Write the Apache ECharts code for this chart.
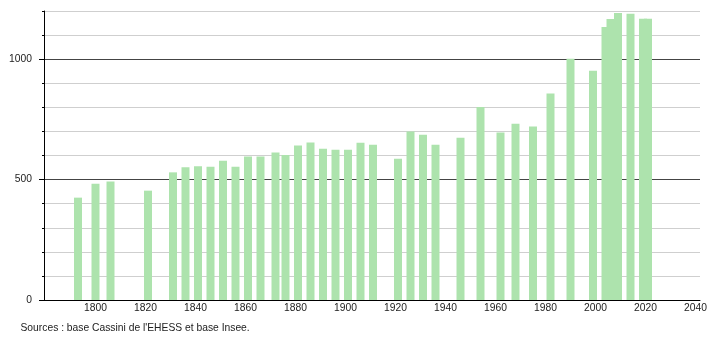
<!DOCTYPE html>
<html><head><meta charset="utf-8">
<script src="https://cdn.jsdelivr.net/npm/echarts@6/dist/echarts.min.js"></script>
<style>html,body{margin:0;padding:0;background:#fff}#c{width:710px;height:340px}</style>
</head><body><div id="c"></div>
<script>
const years = [1793,1800,1806,1821,1831,1836,1841,1846,1851,1856,1861,1866,1872,1876,1881,1886,1891,1896,1901,1906,1911,1921,1926,1931,1936,1946,1954,1962,1968,1975,1982,1990,1999,2004,2006,2009,2014,2019,2021];
const population = [425,483,492,454,530,551,555,553,578,553,596,596,612,602,642,654,628,624,624,653,645,587,700,686,645,674,801,695,732,720,857,1002,952,1134,1167,1192,1189,1168,1168];
const xTickLabels = [1800,1820,1840,1860,1880,1900,1920,1940,1960,1980,2000,2020,2040];
const yTickLabels = [0,500,1000];
const sourceText = "Sources : base Cassini de l'EHESS et base Insee.";

const font = "'Liberation Sans', Arial, sans-serif";
const fs = 10.3;
const chart = echarts.init(document.getElementById('c'), null, {renderer:'canvas'});
chart.setOption({
  animation:false,
  backgroundColor:'#fff',
  grid:{left:44,right:10,top:11,bottom:40,containLabel:false},
  graphic:[{type:'text',left:20.5,top:323.5,style:{text:sourceText,fill:'#222',font:fs+'px '+font}}],
  xAxis:{type:'value',min:1779.4,max:2041.8,
    axisLine:{show:true,onZero:false,lineStyle:{color:'#000',width:1}},
    axisTick:{show:false},
    splitLine:{show:false},
    axisLabel:{customValues:xTickLabels,formatter:v=>String(Math.round(v)),color:'#222',fontSize:fs,fontFamily:font,margin:3}
  },
  yAxis:[{type:'value',min:0,max:1200,interval:100,position:'left',
    axisLine:{show:true,lineStyle:{color:'#000',width:1}},
    axisTick:{show:true,length:2,lineStyle:{color:'#000'}},
    axisLabel:{show:false},
    splitLine:{show:true,lineStyle:{color:['#444','#cfcfcf','#cfcfcf','#cfcfcf','#cfcfcf'],width:1}}
  },{type:'value',min:0,max:1200,position:'left',
    axisLine:{show:false},
    axisTick:{show:true,length:5,customValues:yTickLabels,lineStyle:{color:'#000'}},
    axisLabel:{customValues:yTickLabels,formatter:v=>String(Math.round(v)),color:'#222',fontSize:fs,fontFamily:font,margin:12},
    splitLine:{show:false}
  }],
  series:[{type:'bar',yAxisIndex:0,barWidth:8,
    itemStyle:{color:'#ade3ad'},
    data:years.map((y,i)=>[y,population[i]])
  }]
});
</script></body></html>
